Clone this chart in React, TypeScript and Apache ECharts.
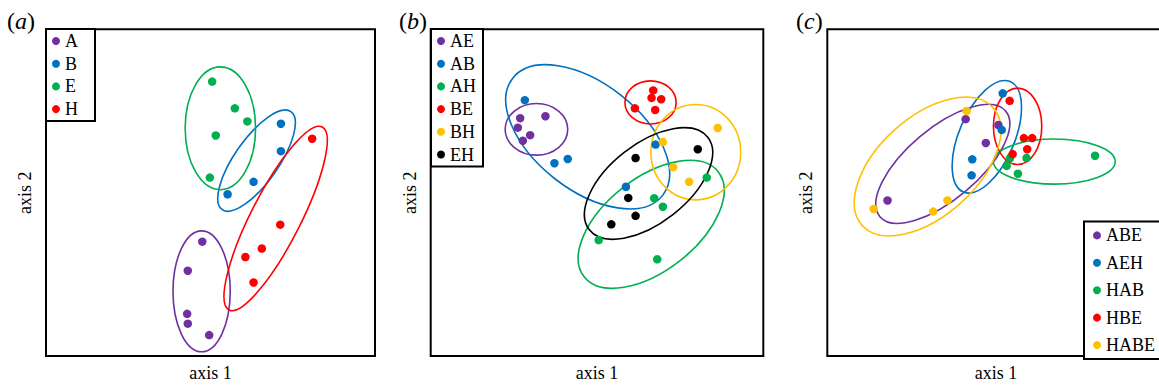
import React, { useEffect, useRef } from "react";
import * as echarts from "echarts";

const SERIF = "'Liberation Serif', 'Times New Roman', serif";

const PURPLE = "#7030A0";
const BLUE = "#0070C0";
const GREEN = "#00B050";
const RED = "#FF0000";
const YELLOW = "#FFC000";
const BLACK = "#000000";

// Panel (a) points [axis1, axis2]
const aA = [[4.75, 3.5], [4.31, 2.61], [4.29, 1.29], [4.31, 0.99], [4.96, 0.64]];
const aB = [[7.14, 7.11], [7.14, 6.27], [6.31, 5.33], [5.52, 4.95]];
const aE = [[5.05, 8.4], [5.74, 7.58], [6.12, 7.18], [5.16, 6.75], [4.98, 5.46]];
const aH = [[8.09, 6.65], [7.12, 4.02], [6.56, 3.29], [6.06, 3.03], [6.31, 2.25]];
// ellipses: [centre1, centre2, semiAxisX, semiAxisY, angleDeg]
const aEllA = [4.73, 1.98, 0.87, 1.85, 0];
const aEllB = [6.4, 5.98, 1.82, 0.67, 55];
const aEllE = [5.3, 6.97, 1.07, 1.88, 0];
const aEllH = [6.98, 4.21, 3.12, 0.76, 63];

// Panel (b)
const bAE = [[2.69, 7.28], [3.45, 7.34], [2.62, 6.99], [2.99, 6.76], [2.77, 6.59]];
const bAB = [[2.83, 7.83], [4.12, 6.03], [3.72, 5.9], [6.76, 6.47], [5.87, 5.18]];
const bAH = [[8.3, 5.46], [6.72, 4.83], [6.98, 4.57], [5.05, 3.55], [6.81, 2.96]];
const bBE = [[6.69, 8.13], [6.64, 7.9], [6.93, 7.86], [6.14, 7.58], [6.75, 7.53]];
const bBH = [[8.63, 6.98], [6.98, 6.55], [7.29, 5.78], [7.77, 5.33]];
const bEH = [[8.03, 6.33], [6.16, 6.06], [5.94, 4.84], [6.16, 4.29], [5.43, 4.03]];
const bEllAE = [3.18, 6.94, 0.94, 0.79, 0];
const bEllAB = [4.72, 6.71, 2.86, 1.63, -38];
const bEllAH = [6.63, 4.03, 2.56, 1.42, 38];
const bEllBE = [6.61, 7.76, 0.77, 0.66, 0];
const bEllBH = [7.97, 6.24, 1.35, 1.46, 0];
const bEllEH = [6.55, 5.28, 2.26, 1.21, 38];

// Panel (c)
const cABE = [[4.18, 7.25], [5.17, 7.07], [4.79, 6.52], [1.82, 4.76]];
const cAEH = [[5.3, 8.04], [5.27, 6.92], [4.38, 6.02], [4.36, 5.53]];
const cHAB = [[8.09, 6.13], [6.02, 6.06], [5.52, 6.06], [5.42, 5.82], [5.76, 5.58]];
const cHBE = [[5.51, 7.81], [5.94, 6.67], [6.19, 6.67], [6.04, 6.33], [5.6, 6.18]];
const cHABE = [[4.21, 7.5], [3.63, 4.76], [3.2, 4.42], [1.4, 4.5]];
const cEllABE = [3.49, 5.88, 2.48, 1.09, 40];
const cEllAEH = [4.82, 6.71, 1.81, 0.85, 67];
const cEllHAB = [6.86, 5.95, 1.84, 0.69, 0];
const cEllHBE = [5.75, 7.03, 0.73, 1.17, 0];
const cEllHABE = [3.03, 5.8, 2.66, 1.51, 42];

const panelA = [
  { name: "A", color: PURPLE, pts: aA, ell: aEllA },
  { name: "B", color: BLUE, pts: aB, ell: aEllB },
  { name: "E", color: GREEN, pts: aE, ell: aEllE },
  { name: "H", color: RED, pts: aH, ell: aEllH },
];
const panelB = [
  { name: "AE", color: PURPLE, pts: bAE, ell: bEllAE },
  { name: "AB", color: BLUE, pts: bAB, ell: bEllAB },
  { name: "AH", color: GREEN, pts: bAH, ell: bEllAH },
  { name: "BE", color: RED, pts: bBE, ell: bEllBE },
  { name: "BH", color: YELLOW, pts: bBH, ell: bEllBH },
  { name: "EH", color: BLACK, pts: bEH, ell: bEllEH },
];
const panelC = [
  { name: "ABE", color: PURPLE, pts: cABE, ell: cEllABE },
  { name: "AEH", color: BLUE, pts: cAEH, ell: cEllAEH },
  { name: "HAB", color: GREEN, pts: cHAB, ell: cEllHAB },
  { name: "HBE", color: RED, pts: cHBE, ell: cEllHBE },
  { name: "HABE", color: YELLOW, pts: cHABE, ell: cEllHABE },
];

function buildSeries(groups: any[], idx: number) {
  const out: any[] = [];
  groups.forEach((g) => {
    out.push({
      type: "custom",
      name: g.name + " ellipse",
      xAxisIndex: idx,
      yAxisIndex: idx,
      z: 1,
      silent: true,
      data: [g.ell],
      renderItem: (params: any, api: any) => {
        const c = api.coord([api.value(0), api.value(1)]);
        const s0 = api.size([api.value(2), 0]);
        const s1 = api.size([0, api.value(3)]);
        return {
          type: "ellipse",
          x: c[0],
          y: c[1],
          rotation: (api.value(4) * Math.PI) / 180,
          shape: { cx: 0, cy: 0, rx: s0[0], ry: s1[1] },
          style: { fill: "none", stroke: g.color, lineWidth: 1.6 },
        };
      },
    });
  });
  groups.forEach((g) => {
    out.push({
      type: "scatter",
      name: g.name,
      xAxisIndex: idx,
      yAxisIndex: idx,
      z: 3,
      symbol: "circle",
      symbolSize: 8.5,
      itemStyle: { color: g.color, opacity: 1 },
      data: g.pts,
    });
  });
  return out;
}

const legendBase = {
  orient: "vertical",
  icon: "circle",
  itemWidth: 8,
  itemHeight: 8,
  selectedMode: false,
  borderColor: "#000",
  borderWidth: 2,
  backgroundColor: "#fff",
  textStyle: { fontFamily: SERIF, fontSize: 18, color: "#000" },
  z: 10,
};

function axisX(idx: number, max: number) {
  return {
    type: "value",
    gridIndex: idx,
    min: 0,
    max,
    name: "axis 1",
    nameLocation: "middle",
    nameGap: 8,
    nameTextStyle: { fontFamily: SERIF, fontSize: 18, color: "#000", verticalAlign: "top" },
    axisLine: { show: false },
    axisTick: { show: false },
    axisLabel: { show: false },
    splitLine: { show: false },
  };
}
function axisY(idx: number) {
  return {
    type: "value",
    gridIndex: idx,
    min: 0,
    max: 10,
    name: "axis 2",
    nameLocation: "middle",
    nameGap: 12,
    nameTextStyle: { fontFamily: SERIF, fontSize: 18, color: "#000" },
    axisLine: { show: false },
    axisTick: { show: false },
    axisLabel: { show: false },
    splitLine: { show: false },
  };
}

function panelLabel(letter: string, x: number) {
  return {
    type: "text",
    x,
    y: 21,
    style: {
      text: "{p|(}{i|" + letter + "}{p|)}",
      verticalAlign: "middle",
      rich: {
        p: { fontFamily: SERIF, fontSize: 24, fill: "#000" },
        i: { fontFamily: SERIF, fontSize: 24, fontStyle: "italic", fill: "#000" },
      },
    },
  };
}

export default function App() {
  const ref = useRef<HTMLDivElement>(null);
  useEffect(() => {
    if (!ref.current) return;
    const chart = echarts.init(ref.current, undefined, { renderer: "svg" });
    const gridStyle = { show: true, borderColor: "#000", borderWidth: 2, backgroundColor: "transparent" };
    chart.setOption({
      animation: false,
      backgroundColor: "#fff",
      grid: [
        { left: 46, top: 29.3, width: 329, height: 330, ...gridStyle },
        { left: 430.7, top: 29.3, width: 332.6, height: 330.7, ...gridStyle },
        { left: 827.3, top: 29.3, width: 337.6, height: 330, ...gridStyle },
      ],
      xAxis: [axisX(0, 10), axisX(1, 10), axisX(2, 10.2)],
      yAxis: [axisY(0), axisY(1), axisY(2)],
      legend: [
        { ...legendBase, left: 46, top: 29, itemGap: 4.7, padding: [3, 17, 3, 6], data: panelA.map((g) => g.name) },
        { ...legendBase, left: 431, top: 29, itemGap: 4.7, padding: [3, 7, 3, 6], data: panelB.map((g) => g.name) },
        { ...legendBase, left: 1084, bottom: 28, itemGap: 9.4, padding: [5, 10, 5, 9], data: panelC.map((g) => g.name) },
      ],
      graphic: [panelLabel("a", 7), panelLabel("b", 399), panelLabel("c", 796)],
      series: [...buildSeries(panelA, 0), ...buildSeries(panelB, 1), ...buildSeries(panelC, 2)],
    });
    return () => chart.dispose();
  }, []);
  return (
    <div style={{ position: "absolute", left: 0, top: 0, width: 1159, height: 387, overflow: "hidden", background: "#fff" }}>
      <div ref={ref} style={{ position: "absolute", left: 0, top: 0, width: 1180, height: 387 }} />
    </div>
  );
}
